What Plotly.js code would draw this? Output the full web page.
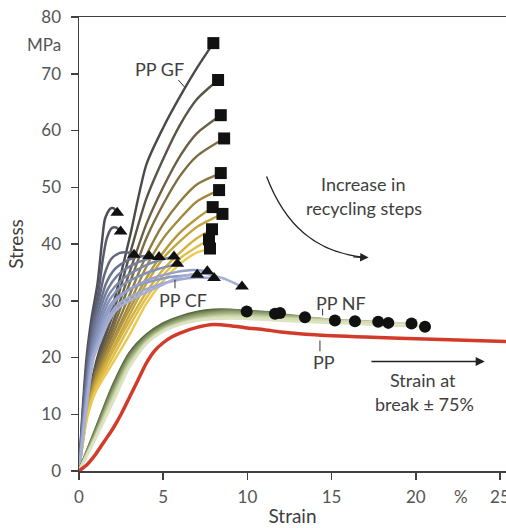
<!DOCTYPE html>
<html>
<head>
<meta charset="utf-8">
<script src="https://cdn.plot.ly/plotly-3.0.1.min.js"></script>
<style>html,body{margin:0;padding:0;background:#fff}</style>
</head>
<body>
<div id="chart" style="width:506px;height:528px"></div>
<script>
// ---- Data ----
// PP GF (glass fibre): shared strain grid, stress per recycling step, end points (squares)
const gfStrainGrid = [0, 0.5, 1, 2, 3, 4, 5, 6, 7];
const gfStress = [
  [0, 12, 19, 29, 41, 54, 60.5, 66, 71],
  [0, 11.8, 18.5, 27.5, 38, 48, 55, 61, 65.5],
  [0, 11.6, 18, 26, 35, 43.5, 50, 55.5, 59.5],
  [0, 11.4, 17.5, 25, 33, 41, 47, 52, 55.5],
  [0, 11.2, 17, 24, 31, 38, 43.5, 47.5, 50.5],
  [0, 11, 16.5, 23, 29.5, 36, 41, 44.5, 47.5],
  [0, 10.8, 16, 22.5, 28.5, 34, 38.5, 42, 44.5],
  [0, 10.6, 15.5, 21.5, 27.5, 33, 37.5, 40.5, 43],
  [0, 10.3, 15, 21, 26.5, 31.5, 35.5, 38.5, 41],
  [0, 10, 14.5, 20, 25.5, 30.5, 34.5, 37.5, 39.5],
  [0, 9.5, 14, 19, 24, 29.5, 33.5, 36.5, 38.5]
];
const gfEndStrain = [7.98, 8.26, 8.42, 8.62, 8.42, 8.32, 7.94, 8.52, 7.90, 7.72, 7.78];
const gfEndStress = [75.4, 68.9, 62.7, 58.6, 52.5, 49.5, 46.5, 45.3, 42.6, 40.8, 39.2];

// PP CF (carbon fibre): curve points, end points (triangles)
const cfStrain = [
  [0, 0.2, 0.45, 0.75, 1.1, 1.35, 1.55, 1.85, 2.05],
  [0, 0.22, 0.5, 0.8, 1.15, 1.4, 1.65, 1.95, 2.2],
  [0, 0.24, 0.55, 0.85, 1.2, 1.5, 1.9, 2.4, 2.9],
  [0, 0.26, 0.6, 0.9, 1.25, 1.6, 2.1, 2.8, 3.5],
  [0, 0.28, 0.64, 0.95, 1.3, 1.7, 2.3, 3.1, 3.9],
  [0, 0.3, 0.68, 1.0, 1.38, 1.8, 2.5, 3.4, 4.5],
  [0, 0.32, 0.72, 1.05, 1.45, 1.9, 2.6, 3.6, 4.7],
  [0, 0.34, 0.76, 1.1, 1.52, 2.0, 2.8, 3.9, 5.4],
  [0, 0.36, 0.8, 1.15, 1.6, 2.1, 3.0, 4.2, 5.7, 6.8],
  [0, 0.38, 0.84, 1.2, 1.68, 2.2, 3.1, 4.3, 5.9, 7.0],
  [0, 0.4, 0.88, 1.25, 1.75, 2.3, 3.3, 4.6, 6.0, 7.3, 8.5]
];
const cfStress = [
  [0, 10, 20, 27, 33, 40, 44.5, 46.2, 46.3],
  [0, 10, 20, 26.5, 31.5, 37, 41, 42.8, 42.9],
  [0, 10, 20, 26, 30.5, 34.5, 37.3, 38.4, 38.5],
  [0, 10, 20, 25.5, 29.5, 33, 35.5, 37, 37.8],
  [0, 10, 20, 25, 28.8, 32, 34.5, 36.2, 37.2],
  [0, 10, 20, 24.5, 28.2, 31.2, 33.6, 35.4, 36.9],
  [0, 10, 20, 24, 27.7, 30.5, 32.8, 34.4, 35.6],
  [0, 10, 20, 23.5, 27.2, 29.8, 31.7, 33.1, 34.2],
  [0, 10, 20, 23.2, 27, 29.8, 32, 33.8, 35, 35.4],
  [0, 10, 20, 23, 26.6, 29, 30.8, 32.4, 33.7, 34.1],
  [0, 10, 20, 22.7, 26.3, 28.6, 30.5, 32.3, 34.2, 34.8, 34]
];
const cfEndStrain = [2.27, 2.47, 3.27, 4.16, 4.75, 5.64, 5.84, 7.02, 7.62, 8.02, 9.68];
const cfEndStress = [45.5, 42.2, 38.1, 37.9, 37.7, 37.8, 36.5, 34.6, 35.2, 34.0, 32.5];

// PP NF (natural fibre): shared strain grid, stress per step, end points (circles)
const nfStrainGrid = [0, 1, 2, 3, 4, 5, 6, 7, 8, 9, 10, 12, 14, 16, 18, 20];
const nfStress = [
  [0, 7.5, 15.0, 20.8, 24.0, 26.0, 27.2, 28.0, 28.4, 28.4],
  [0, 7.3, 14.7, 20.5, 23.8, 25.8, 27.0, 27.8, 28.2, 28.3, 28.2],
  [0, 7.1, 14.4, 20.3, 23.6, 25.6, 26.9, 27.7, 28.1, 28.3, 28.2],
  [0, 6.9, 14.0, 20.0, 23.4, 25.4, 26.7, 27.5, 27.9, 28.1, 28.0, 27.6],
  [0, 6.7, 13.7, 19.7, 23.2, 25.3, 26.5, 27.3, 27.7, 27.9, 27.8, 27.4, 26.9],
  [0, 6.5, 13.4, 19.4, 23.0, 25.1, 26.3, 27.1, 27.5, 27.7, 27.6, 27.2, 26.8],
  [0, 6.3, 13.0, 19.1, 22.8, 24.9, 26.1, 26.9, 27.3, 27.5, 27.4, 27.1, 26.8, 26.5],
  [0, 6.1, 12.7, 18.8, 22.6, 24.8, 26.0, 26.7, 27.1, 27.3, 27.2, 26.9, 26.6, 26.3],
  [0, 6.0, 12.4, 18.6, 22.5, 24.7, 25.9, 26.6, 27.0, 27.1, 27.0, 26.8, 26.5, 26.3, 26.1],
  [0, 5.8, 12.0, 18.3, 22.4, 24.6, 25.8, 26.5, 26.8, 26.9, 26.8, 26.5, 26.2, 26.0, 25.7, 25.5]
];
const nfEndStrain = [9.96, 11.64, 11.94, 13.42, 15.2, 16.39, 17.77, 18.37, 19.75, 20.55];
const nfEndStress = [28.1, 27.7, 27.85, 27.1, 26.5, 26.4, 26.3, 26.1, 26.0, 25.4];

// PP (neat)
const ppStrain = [0, 0.5, 1, 1.5, 2, 2.5, 3, 3.5, 4, 4.5, 5, 5.5, 6, 7, 8, 9, 10, 11, 12, 14, 17, 21, 25.36];
const ppStress = [0, 1.2, 3, 5.2, 7.4, 10, 13, 16, 19, 21.2, 22.6, 23.6, 24.3, 25.3, 25.8, 25.6, 25.2, 24.9, 24.5, 24.0, 23.6, 23.2, 22.8];

const xTicks = [0, 5, 10, 15, 20, 25];
const yTicks = [0, 10, 20, 30, 40, 50, 60, 70, 80];

// ---- Styles ----
const gfColors = ['#4a4a48','#5a5445','#6b6044','#7d6d42','#8f7b40','#a2893e','#b4973d','#c5a53e','#d4b242','#e1be48','#ecc84f'];
const cfColors = ['#4e4e58','#585b6c','#61677e','#6a7290','#737d9f','#7b87ab','#8490b6','#8c99c0','#95a1c8','#9da9cf','#a6b0d6'];
const nfColors = ['#56693f','#65784c','#758759','#869667','#97a576','#a8b486','#b8c396','#c7d0a6','#d3dbb4','#dce3c0'];

const traces = [];
gfStress.forEach((ys, i) => {
  traces.push({
    x: gfStrainGrid.slice(0, ys.length).concat([gfEndStrain[i]]),
    y: ys.concat([gfEndStress[i]]),
    mode: 'lines', line: {color: gfColors[i], width: 2.4, shape: 'spline', smoothing: 0.7},
    hoverinfo: 'skip'
  });
});
cfStress.forEach((ys, i) => {
  traces.push({
    x: cfStrain[i].concat([cfEndStrain[i]]),
    y: ys.concat([cfEndStress[i]]),
    mode: 'lines', line: {color: cfColors[i], width: 2.5, shape: 'spline', smoothing: 0.7},
    hoverinfo: 'skip'
  });
});
nfStress.forEach((ys, i) => {
  traces.push({
    x: nfStrainGrid.slice(0, ys.length).concat([nfEndStrain[i]]),
    y: ys.concat([nfEndStress[i]]),
    mode: 'lines', line: {color: nfColors[i], width: 2.6, shape: 'spline', smoothing: 0.7},
    hoverinfo: 'skip'
  });
});
traces.push({x: ppStrain, y: ppStress, mode: 'lines',
  line: {color: '#d23b2a', width: 3.5, shape: 'spline', smoothing: 0.6}, hoverinfo: 'skip'});
traces.push({x: gfEndStrain, y: gfEndStress, mode: 'markers',
  marker: {symbol: 'square', size: 12, color: '#111'}, hoverinfo: 'skip'});
traces.push({x: cfEndStrain, y: cfEndStress, mode: 'markers',
  marker: {symbol: 'triangle-up', size: 12, color: '#111'}, hoverinfo: 'skip'});
traces.push({x: nfEndStrain, y: nfEndStress, mode: 'markers',
  marker: {symbol: 'circle', size: 12, color: '#111'}, hoverinfo: 'skip'});

const txt = '#404040';
const FF = 'Lato, sans-serif';
const lblFont = {family: FF, size: 18, color: txt};
function label(x, y, text) {
  return {x: x, y: y, xref: 'x', yref: 'y', text: text, showarrow: false, font: lblFont,
          xanchor: 'center', yanchor: 'middle'};
}
const annotations = [
  label(4.81, 70.9, 'PP GF'),
  label(6.15, 30.2, 'PP CF'),
  label(15.56, 29.6, 'PP NF'),
  label(14.55, 19.2, 'PP'),
  label(16.84, 50.5, 'Increase in'),
  label(16.92, 46.3, 'recycling steps'),
  label(20.43, 16.1, 'Strain at'),
  label(20.49, 11.8, 'break ± 75%'),
  {x: -0.083, y: 0.9405, xref: 'paper', yref: 'paper', text: 'MPa', showarrow: false,
   font: {family: FF, size: 17, color: '#555'}, xanchor: 'center', yanchor: 'middle'},
  {x: 22.71, y: -0.056, xref: 'x', yref: 'paper', text: '%', showarrow: false,
   font: {family: FF, size: 17, color: '#555'}, xanchor: 'center', yanchor: 'middle'},
  {x: 24.1, y: 19.3, ax: 17.28, ay: 19.3, xref: 'x', yref: 'y', axref: 'x', ayref: 'y',
   text: '', showarrow: true, arrowhead: 2, arrowsize: 1.3, arrowwidth: 1.4, arrowcolor: '#222'},
  {x: 17.2, y: 37.6, ax: 16.2, ay: 37.75, xref: 'x', yref: 'y', axref: 'x', ayref: 'y',
   text: '', showarrow: true, arrowhead: 2, arrowsize: 1.3, arrowwidth: 1.3, arrowcolor: '#222'}
];

const lc = '#333';
const shapes = [
  {type: 'path', xref: 'x', yref: 'y', path: 'M 11.14,51.9 C 12.23,43.4 14.01,38.6 16.9,37.65',
   line: {color: '#222', width: 1.3}},
  {type: 'line', xref: 'x', yref: 'y', x0: 5.90, y0: 68.9, x1: 6.29, y1: 67.6, line: {color: lc, width: 1}},
  {type: 'line', xref: 'x', yref: 'y', x0: 5.7, y0: 33.7, x1: 5.7, y1: 32.2, line: {color: lc, width: 1}},
  {type: 'line', xref: 'x', yref: 'y', x0: 14.47, y0: 28.6, x1: 14.47, y1: 27.4, line: {color: lc, width: 1}},
  {type: 'line', xref: 'x', yref: 'y', x0: 14.31, y0: 23.0, x1: 14.31, y1: 21.1, line: {color: lc, width: 1}}
];

const axisCommon = {
  ticks: 'outside', ticklen: 7, tickwidth: 1.5, tickcolor: '#404040',
  showline: true, linecolor: '#404040', linewidth: 1.5,
  showgrid: false, zeroline: false,
  tickfont: {family: FF, size: 17, color: '#555'}
};

const layout = {
  width: 506, height: 528,
  margin: {l: 79, r: 0, t: 17, b: 57},
  paper_bgcolor: '#fff', plot_bgcolor: '#fff',
  showlegend: false,
  font: {family: FF, color: txt},
  xaxis: Object.assign({}, axisCommon, {
    range: [0, 25.36], tickvals: xTicks, ticktext: xTicks.map(String), mirror: true,
    ticklabelstandoff: 3, ticklabeloverflow: 'allow',
    title: {text: 'Strain', font: {family: FF, size: 19, color: txt}, standoff: 4}
  }),
  yaxis: Object.assign({}, axisCommon, {
    range: [0, 80], tickvals: yTicks, ticktext: yTicks.map(String),
    ticklabelstandoff: 6,
    title: {text: 'Stress', font: {family: FF, size: 19, color: txt}, standoff: 12}
  }),
  annotations: annotations,
  shapes: shapes
};

Plotly.newPlot('chart', traces, layout, {displayModeBar: false, staticPlot: true});
</script>
</body>
</html>
